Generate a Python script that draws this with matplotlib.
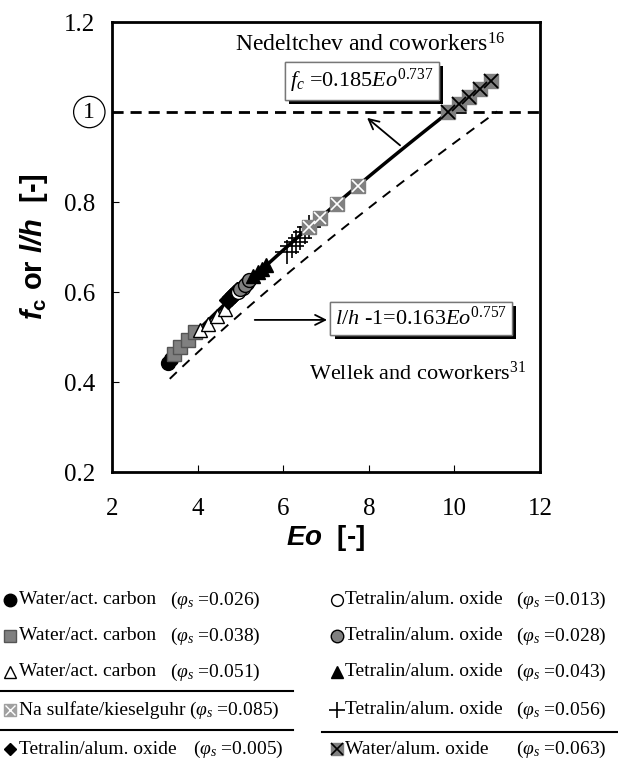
import numpy as np
import matplotlib
matplotlib.use("Agg")
from matplotlib import pyplot as plt
import matplotlib.patheffects as pe

plt.rcParams['font.family'] = ['Liberation Serif', 'DejaVu Serif']
plt.rcParams['mathtext.fontset'] = 'custom'
plt.rcParams['mathtext.rm'] = 'Liberation Serif'
plt.rcParams['mathtext.it'] = 'Liberation Serif:italic'
plt.rcParams['mathtext.bf'] = 'Liberation Sans:bold'
plt.rcParams['mathtext.bfit'] = 'Liberation Sans:italic:bold'
plt.rcParams['mathtext.fallback'] = 'stix'

# data (Eo, fc or l/h)
eo_wac026 = [3.3, 3.38]
fc_wac026 = [0.443, 0.452]
eo_wac038 = [3.45, 3.6, 3.78, 3.95]
fc_wac038 = [0.462, 0.477, 0.493, 0.511]
eo_wac051 = [4.05, 4.25, 4.45, 4.65]
fc_wac051 = [0.516, 0.528, 0.546, 0.562]
eo_tao005 = [4.7, 4.78, 4.85, 4.92]
fc_tao005 = [0.583, 0.59, 0.596, 0.603]
eo_tao013 = [4.95, 5.05, 5.15]
fc_tao013 = [0.6, 0.61, 0.62]
eo_tao028 = [5.0, 5.1, 5.2]
fc_tao028 = [0.606, 0.616, 0.626]
eo_tao043 = [5.3, 5.4, 5.5, 5.6]
fc_tao043 = [0.635, 0.644, 0.652, 0.66]
eo_tao056 = [6.1, 6.2, 6.3, 6.4, 6.5, 6.6]
fc_tao056 = [0.69, 0.702, 0.711, 0.72, 0.733, 0.745]
eo_nak085 = [6.6, 6.85, 7.25, 7.75]
fc_nak085 = [0.745, 0.765, 0.796, 0.835]
eo_wao063 = [9.85, 10.1, 10.35, 10.6, 10.85]
fc_wao063 = [0.999, 1.017, 1.034, 1.052, 1.07]

# correlations
eo_ned = np.linspace(3.3, 10.9, 60)
fc_ned = 0.185 * eo_ned ** 0.737
eo_wel = np.linspace(3.35, 11.0, 60)
lh_wel = 0.163 * eo_wel ** 0.757

fig = plt.figure(figsize=(6.18, 7.67), dpi=100)
ax = fig.add_axes([0.1812, 0.3846, 0.6926, 0.5867])

ax.axhline(1.0, color='black', lw=2, ls=(0, (4, 2.5)), zorder=1)
ax.plot(eo_wel, lh_wel, color='black', lw=1.4, ls=(0, (5, 4)), zorder=1)
ax.plot(eo_ned, fc_ned, color='black', lw=2.5, zorder=2)

gray = '#808080'
ax.plot(eo_wac026, fc_wac026, 'o', ms=10, mfc='black', mec='black', zorder=3)
ax.plot(eo_wac038, fc_wac038, 's', ms=10, mfc=gray, mec='#555555', zorder=3)
ax.plot(eo_wac051, fc_wac051, '^', ms=10, mfc='white', mec='black', mew=1, zorder=3)
ax.plot(eo_tao005, fc_tao005, 'D', ms=9, mfc='black', mec='black', zorder=3)
ax.plot(eo_tao013, fc_tao013, 'o', ms=10, mfc='white', mec='black', zorder=3)
ax.plot(eo_tao028, fc_tao028, 'o', ms=10, mfc=gray, mec='black', zorder=3)
ax.plot(eo_tao043, fc_tao043, '^', ms=10, mfc='black', mec='black', zorder=3)
ax.plot(eo_tao056, fc_tao056, '+', ms=17, mec='black', mew=1.2, zorder=3)
ax.plot(eo_nak085, fc_nak085, 's', ms=10, mfc=gray, mec=gray, zorder=3)
ax.plot(eo_nak085, fc_nak085, 'x', ms=9, mec='white', mew=1.2, zorder=3)
ax.plot(eo_wao063, fc_wao063, 's', ms=10, mfc=gray, mec=gray, zorder=3)
ax.plot(eo_wao063, fc_wao063, 'x', ms=10, mec='black', mew=1.3, zorder=4)

ax.set_xlim(2, 12)
ax.set_ylim(0.2, 1.2)
ax.set_xticks([2, 4, 6, 8, 10, 12])
ax.set_xticklabels(['2', '4', '6', '8', '10', '12'])
ax.set_yticks([0.2, 0.4, 0.6, 0.8, 1.0, 1.2])
ax.set_yticklabels(['0.2', '0.4', '0.6', '0.8', '', '1.2'])
ax.tick_params(axis='both', direction='in', length=5, width=0.8, labelsize=18)
ax.tick_params(axis='x', pad=19)
ax.tick_params(axis='y', pad=12)
for s in ax.spines.values():
    s.set_linewidth(2)

ax.text(-0.053, 1.0, '1', transform=ax.get_yaxis_transform(), ha='center', va='center',
        fontsize=17, bbox=dict(boxstyle='circle,pad=0.22', fc='white', ec='black', lw=0.9))

ax.set_xlabel(r'$\mathbfit{Eo}$  [-]', fontsize=20, fontfamily='Liberation Sans',
              fontweight='bold', labelpad=2)
ax.set_ylabel(r'$\mathbfit{f}_{\mathbf{c}}$ or $\mathbfit{l/h}$  [-]', fontsize=21,
              fontfamily='Liberation Sans', fontweight='bold', labelpad=10)

# annotations
ax.text(8.03, 1.15, r'Nedeltchev and coworkers$^{16}$', fontsize=17, ha='center', va='center')
t1 = ax.text(7.84, 1.069, r'$f_{c}$ =0.185$Eo^{0.737}$', fontsize=16, ha='center', va='center',
             bbox=dict(boxstyle='square,pad=0.22', fc='white', ec='#777777', lw=1))
ax.annotate('', xy=(7.91, 0.991), xytext=(8.78, 0.922),
            arrowprops=dict(arrowstyle='->', color='black', lw=1.3, mutation_scale=18))

t2 = ax.text(9.22, 0.542, r'$l/h$ -1=0.163$Eo^{0.757}$', fontsize=16, ha='center', va='center',
             bbox=dict(boxstyle='square,pad=0.22', fc='white', ec='#777777', lw=1))
ax.annotate('', xy=(7.09, 0.538), xytext=(5.27, 0.538),
            arrowprops=dict(arrowstyle='->', color='black', lw=1.3, mutation_scale=18))
ax.text(9.13, 0.42, r'Wellek and coworkers$^{31}$', fontsize=16, ha='center', va='center')

fig.canvas.draw()
for t in (t1, t2):
    t.get_bbox_patch().set_path_effects(
        [pe.withSimplePatchShadow(offset=(3, -3), shadow_rgbFace='black', alpha=1.0), pe.Normal()])

# legend panel below the plot
lg = fig.add_axes([0, 0, 1, 200 / 767])
lg.set_xlim(0, 618)
lg.set_ylim(767, 567)
lg.axis('off')

left_names = ['Water/act. carbon', 'Water/act. carbon', 'Water/act. carbon',
              'Na sulfate/kieselguhr', 'Tetralin/alum. oxide']
left_phi = ['0.026', '0.038', '0.051', '0.085', '0.005']
right_names = ['Tetralin/alum. oxide', 'Tetralin/alum. oxide', 'Tetralin/alum. oxide',
               'Tetralin/alum. oxide', 'Water/alum. oxide']
right_phi = ['0.013', '0.028', '0.043', '0.056', '0.063']
rows = [600, 636, 672, 710, 749]
left_phi_x = [170, 170, 170, 189, 193]

left_styles = [dict(marker='o', mfc='black', mec='black', ms=9),
               dict(marker='s', mfc=gray, mec='#555555', ms=8.5),
               dict(marker='^', mfc='white', mec='black', ms=9),
               dict(marker='s', mfc='#a0a0a0', mec='#a0a0a0', ms=8),
               dict(marker='D', mfc='black', mec='black', ms=6.5)]
right_styles = [dict(marker='o', mfc='white', mec='black', ms=8.5),
                dict(marker='o', mfc=gray, mec='black', ms=9),
                dict(marker='^', mfc='black', mec='black', ms=9),
                dict(marker='+', mec='black', ms=11, mew=1.2),
                dict(marker='s', mfc=gray, mec=gray, ms=8.5)]

for i, y in enumerate(rows):
    lg.plot([10], [y], ls='none', **left_styles[i])
    lg.text(19, y, left_names[i], fontsize=14, va='center')
    lg.text(left_phi_x[i], y, r'($\varphi_s$ =' + left_phi[i] + ')', fontsize=14, va='center')
    lg.plot([337], [y], ls='none', **right_styles[i])
    lg.text(345, y, right_names[i], fontsize=14, va='center')
    lg.text(516, y, r'($\varphi_s$ =' + right_phi[i] + ')', fontsize=14, va='center')
lg.plot([10], [rows[3]], 'x', ms=7, mec='white', mew=1)
lg.plot([337], [rows[4]], 'x', ms=8.5, mec='black', mew=1.2)

lg.plot([0, 293], [691, 691], color='black', lw=1.5)
lg.plot([0, 293], [730, 730], color='black', lw=1.5)
lg.plot([322, 618], [732, 732], color='black', lw=1.5)

plt.savefig('out.png', dpi=100)
